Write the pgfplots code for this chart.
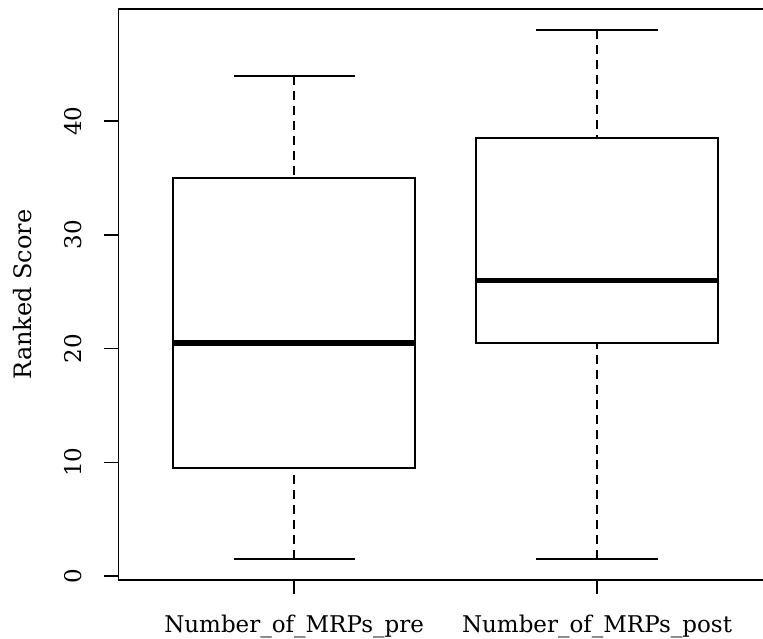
\documentclass[border=0pt]{standalone}
\usepackage{fontspec}
\setmainfont{DejaVu Serif}
\usepackage{pgfplots}
\pgfplotsset{compat=1.18}
\usepgfplotslibrary{statistics}
\begin{document}
\begin{tikzpicture}
\begin{axis}[
  scale only axis,
  width=654.5pt, height=571.3pt,
  xmin=0.42, xmax=2.58, ymin=-0.36, ymax=49.86,
  xtick={1,2},
  xticklabels={Number\_of\_MRPs\_pre, Number\_of\_MRPs\_post},
  ytick={0,10,20,30,40},
  tick pos=left,
  tick align=outside,
  major tick length=14pt,
  tick style={black, line width=1.5pt},
  axis line style={black, line width=1.8pt},
  /pgf/number format/assume math mode=true,
  every tick label/.append style={font=\fontsize{23}{27}\selectfont},
  yticklabel style={rotate=90, anchor=base},
  xticklabel style={anchor=base},
  yticklabel shift=23pt,
  xticklabel shift=38pt,
  every axis y label/.style={at={(rel axis cs:0,0.5)}, xshift=-87pt, rotate=90, anchor=base, font=\fontsize{24}{28}\selectfont},
  ylabel={Ranked Score},
  boxplot/draw direction=y,
  boxplot/every median/.style={line width=5.5pt},
  boxplot/draw/lower whisker/.code={%
    \draw[black, line width=1.8pt, dash pattern=on 9pt off 6pt]
      (boxplot cs:\pgfplotsboxplotvalue{lower whisker}) --
      (boxplot cs:\pgfplotsboxplotvalue{lower quartile});
    \draw[black, line width=1.8pt, solid]
      (boxplot whisker cs:\pgfplotsboxplotvalue{lower whisker},0) --
      (boxplot whisker cs:\pgfplotsboxplotvalue{lower whisker},1);
  },
  boxplot/draw/upper whisker/.code={%
    \draw[black, line width=1.8pt, dash pattern=on 9pt off 6pt]
      (boxplot cs:\pgfplotsboxplotvalue{upper whisker}) --
      (boxplot cs:\pgfplotsboxplotvalue{upper quartile});
    \draw[black, line width=1.8pt, solid]
      (boxplot whisker cs:\pgfplotsboxplotvalue{upper whisker},0) --
      (boxplot whisker cs:\pgfplotsboxplotvalue{upper whisker},1);
  },
]
\addplot[black, line width=1.8pt, boxplot prepared={draw position=1,
  lower whisker=1.5, lower quartile=9.5, median=20.5,
  upper quartile=35, upper whisker=44,
  box extend=0.8, whisker extend=0.4}] coordinates {};
\addplot[black, line width=1.8pt, boxplot prepared={draw position=2,
  lower whisker=1.5, lower quartile=20.5, median=26,
  upper quartile=38.5, upper whisker=48,
  box extend=0.8, whisker extend=0.4}] coordinates {};
\end{axis}
\pgfresetboundingbox
\path[use as bounding box] ([xshift=-118.5pt,yshift=-58.5pt]current axis.south west) rectangle ([xshift=-9.7pt,yshift=9pt]current axis.north east);
\end{tikzpicture}
\end{document}
